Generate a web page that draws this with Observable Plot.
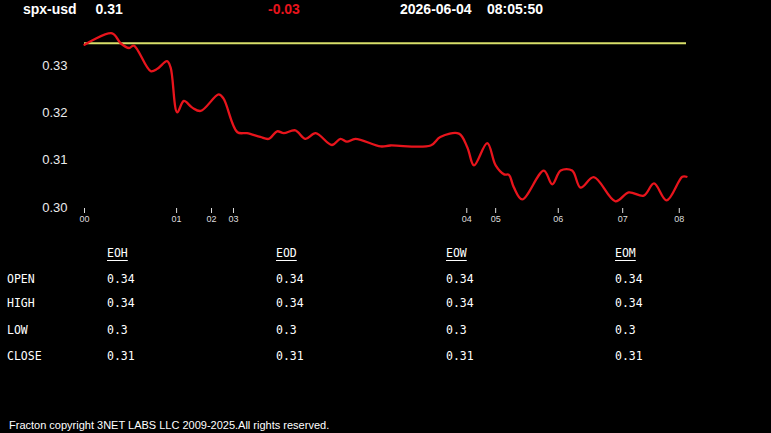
<!DOCTYPE html>
<html>
<head>
<meta charset="utf-8">
<script src="https://cdn.jsdelivr.net/npm/d3@7"></script>
<script src="https://cdn.jsdelivr.net/npm/@observablehq/plot@0.6"></script>
<style>
  html, body { margin: 0; padding: 0; background: #000; }
  #root { position: relative; width: 771px; height: 433px; background: #000; overflow: hidden; font-family: "Liberation Sans", Arial, sans-serif; }
  .hdr { position: absolute; top: 0; line-height: 18px; font-size: 14px; font-weight: bold; color: #fff; white-space: nowrap; }
  #chart { position: absolute; left: 0; top: 0; }
  .tb { position: absolute; font-family: "DejaVu Sans Mono", "Liberation Mono", monospace; font-size: 11.5px; line-height: 13px; color: #fff; white-space: nowrap; }
  .tb.h { text-decoration: underline; text-underline-offset: 3px; }
  #footer { position: absolute; left: 9px; top: 419px; font-size: 11px; line-height: 13px; color: #fff; white-space: nowrap; }
</style>
</head>
<body>
<div id="root">
  <div id="chart"></div>
</div>
<script>
// ---- data ----
const symbol = "spx-usd";
const lastPrice = "0.31";
const change = "-0.03";
const dateText = "2026-06-04";
const timeText = "08:05:50";

const openPrice = 0.3347;

// sample position (x) and price (y)
const xIndex = [0, 4.6, 6.0, 7.4, 8.2, 11.0, 12.1, 13.7, 14.3, 15.4, 16.5, 17.9, 19.3, 22.3, 23.1,
  25.4, 27.0, 29.2, 30.6, 32.0, 33.1, 35.0, 36.7, 38.4, 41.1, 42.5, 43.6, 45.0, 49.2, 50.8,
  57.5, 59.1, 62.2, 63.6, 64.7, 66.9, 68.3, 69.7, 70.5, 71.3, 72.7, 76.3, 77.7, 79.1, 81.0,
  82.4, 84.6, 88.2, 90.4, 92.9, 94.6, 96.7, 99.3, 100];
const prices = [0.3344, 0.3368, 0.3347, 0.3337, 0.3342, 0.3288, 0.3293, 0.3309, 0.3296, 0.3201, 0.3225, 0.3211, 0.3204, 0.3239, 0.3230,
  0.3159, 0.3157, 0.3149, 0.3145, 0.3161, 0.3157, 0.3163, 0.3145, 0.3157, 0.3132, 0.3145, 0.3139, 0.3145, 0.3129, 0.3131,
  0.3131, 0.3149, 0.3156, 0.3127, 0.3089, 0.3136, 0.3089, 0.3070, 0.3069, 0.3043, 0.3017, 0.3078, 0.3049, 0.3078, 0.3078,
  0.3042, 0.3064, 0.3013, 0.3032, 0.3025, 0.3051, 0.3015, 0.3065, 0.3065];

const hourTickPos = [0, 15.3, 21.1, 24.75, 63.5, 68.3, 78.7, 89.4, 98.8];
const hourTickLabels = ["00", "01", "02", "03", "04", "05", "06", "07", "08"];
const yTicks = [0.30, 0.31, 0.32, 0.33];

const rowLabels = ["OPEN", "HIGH", "LOW", "CLOSE"];
const colHeaders = ["EOH", "EOD", "EOW", "EOM"];
const eohValues = ["0.34", "0.34", "0.3", "0.31"];
const eodValues = ["0.34", "0.34", "0.3", "0.31"];
const eowValues = ["0.34", "0.34", "0.3", "0.31"];
const eomValues = ["0.34", "0.34", "0.3", "0.31"];

const footerText = "Fracton copyright 3NET LABS LLC 2009-2025.All rights reserved.";

// ---- build ----
const root = document.getElementById("root");
function addDiv(cls, text, left, top, color) {
  const d = document.createElement("div");
  d.className = cls;
  d.textContent = text;
  d.style.left = left + "px";
  if (top != null) d.style.top = top + "px";
  if (color) d.style.color = color;
  root.appendChild(d);
  return d;
}

// header
addDiv("hdr", symbol, 23);
addDiv("hdr", lastPrice, 95.5);
addDiv("hdr", change, 268, null, "#e8141c");
addDiv("hdr", dateText, 400);
addDiv("hdr", timeText, 487);

// chart
const points = xIndex.map((x, i) => ({x, y: prices[i]}));
const tickLabelMap = new Map(hourTickPos.map((p, i) => [p, hourTickLabels[i]]));
const xMin = d3.min(xIndex), xMax = d3.max(xIndex);

const chart = Plot.plot({
  width: 771,
  height: 232,
  marginLeft: 70,
  marginRight: 80,
  marginTop: 20,
  marginBottom: 24,
  style: {background: "transparent", color: "#e6e6e6", fontFamily: "'Liberation Sans', Arial, sans-serif"},
  x: {domain: [0, 100], range: [84, 686]},
  y: {domain: [0.30, 0.33], range: [207, 65]},
  marks: [
    Plot.axisY({ticks: yTicks, tickFormat: d3.format(".2f"), tickSize: 0, tickPadding: 3, fontSize: 13, label: null, color: "#ececec"}),
    Plot.axisX({ticks: hourTickPos, tickFormat: d => tickLabelMap.get(d), tickSize: 5, tickPadding: 2, fontSize: 9, label: null, stroke: "#ddd", color: "#ddd"}),
    Plot.ruleY([{y: openPrice, x1: xMin, x2: xMax}], {y: "y", x1: "x1", x2: "x2", stroke: "#d8df6a", strokeWidth: 2}),
    Plot.line(points, {x: "x", y: "y", stroke: "#e8141c", strokeWidth: 2.3, curve: "catmull-rom"})
  ]
});
document.getElementById("chart").appendChild(chart);

// table
const colX = [107, 276, 446, 615];
const headerTop = 246.5;
const rowTops = [272.5, 296.5, 323.5, 349.5];
const colValues = [eohValues, eodValues, eowValues, eomValues];
colHeaders.forEach((h, c) => addDiv("tb h", h, colX[c], headerTop));
rowLabels.forEach((r, i) => addDiv("tb", r, 7, rowTops[i]));
colValues.forEach((vals, c) => vals.forEach((v, i) => addDiv("tb", v, colX[c], rowTops[i])));

// footer
const f = document.createElement("div");
f.id = "footer";
f.textContent = footerText;
root.appendChild(f);
</script>
</body>
</html>
